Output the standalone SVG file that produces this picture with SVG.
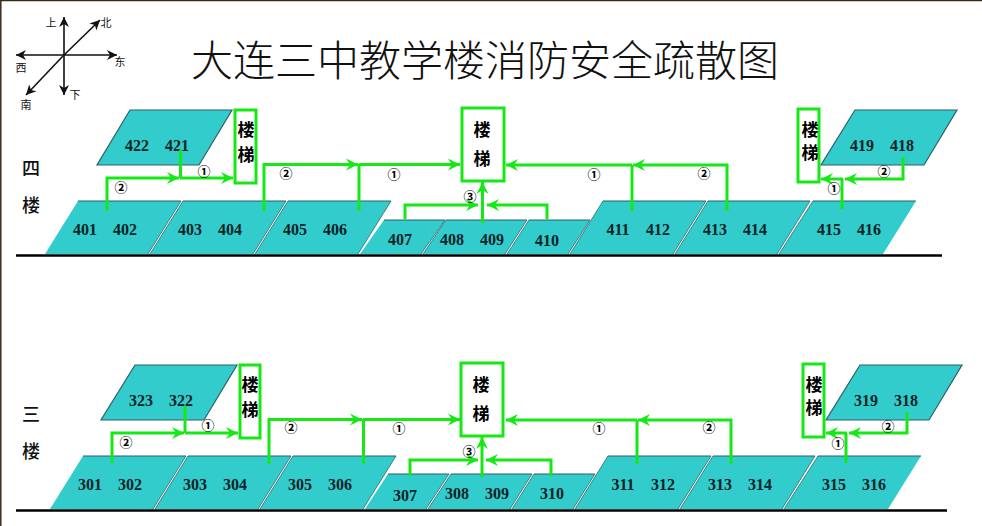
<svg xmlns="http://www.w3.org/2000/svg" width="982" height="526" viewBox="0 0 982 526">
<style>
text{font-family:"Liberation Serif","Noto Sans CJK SC",serif;text-anchor:middle;fill:#111}
.room{fill:#33cccc;stroke:none}
.edge{fill:none;stroke:#2f5f68;stroke-width:1.2}
.sep{fill:none;stroke:#3d7478;stroke-width:.9}
.num{font-size:16px;font-weight:bold;fill:#0a2226}
.stair{fill:#fff;stroke:#16e816;stroke-width:3}
.zh{font-family:"Noto Sans CJK SC","Noto Sans CJK JP",sans-serif;font-weight:bold;font-size:17px;fill:#000}
.side{font-family:"Noto Sans CJK SC",sans-serif;font-size:18px;font-weight:500}
.dir{font-family:"Noto Sans CJK SC",sans-serif;font-size:11px}
.cn{font-family:"Noto Sans CJK SC",sans-serif;font-size:13px;font-weight:bold;fill:#000}
.g{fill:none;stroke:#16e816;stroke-width:3}
.ga{marker-end:url(#ah)}
.k{fill:none;stroke:#111;stroke-width:1.6;marker-end:url(#kh)}
.base{stroke:#000;stroke-width:2.5}
</style>
<defs>
<marker id="ah" markerUnits="userSpaceOnUse" markerWidth="14" markerHeight="14" refX="12" refY="6" orient="auto" viewBox="0 0 14 12"><path d="M0 0L12 6L0 12L4 6Z" fill="#16e816"/></marker>
<marker id="kh" markerUnits="userSpaceOnUse" markerWidth="12" markerHeight="12" refX="10" refY="5" orient="auto" viewBox="0 0 12 10"><path d="M0 0L10 5L0 10L3 5Z" fill="#111"/></marker>
</defs>
<rect width="982" height="526" fill="#fff"/>
<path d="M0 0.5H982M0.8 0V526" stroke="#3a2a18" stroke-width="1.5" fill="none"/>

<g id="compass">
<path class="k" d="M64 55V17"/><path class="k" d="M64 55V95"/><path class="k" d="M64 55H117"/><path class="k" d="M64 55H16"/><path class="k" d="M63 56L100 20"/><path class="k" d="M63 56L26 95"/>
<text class="dir" x="51" y="27">上</text><text class="dir" x="106" y="27">北</text><text class="dir" x="120" y="66">东</text><text class="dir" x="21" y="72">西</text><text class="dir" x="26" y="109">南</text><text class="dir" x="75" y="99">下</text>
</g>
<text id="title" x="485" y="76" font-size="42" style="font-family:'Noto Sans CJK SC',sans-serif;font-weight:300" fill="#111">大连三中教学楼消防安全疏散图</text>

<g id="floor4-label"><text class="side" x="31" y="175">四</text><text class="side" x="31" y="212">楼</text></g>
<g id="floor3-label"><text class="side" x="31" y="421">三</text><text class="side" x="31" y="458">楼</text></g>
<path class="base" d="M16 255.5H942"/>
<path class="base" d="M16 510.5H947"/>

<g id="r401"><polygon class="room" points="45,254 148,254 181,201 78,201"/><path class="edge" d="M78 201H181"/><path class="sep" d="M148 254L181 201"/><text class="num" x="85" y="235">401</text><text class="num" x="125" y="235">402</text></g>
<g id="r403"><polygon class="room" points="150,254 253,254 286,201 183,201"/><path class="edge" d="M183 201H286"/><path class="sep" d="M150 254L183 201M253 254L286 201"/><text class="num" x="190" y="235">403</text><text class="num" x="230" y="235">404</text></g>
<g id="r405"><polygon class="room" points="255,254 358,254 391,201 288,201"/><path class="edge" d="M288 201H391"/><path class="sep" d="M255 254L288 201M358 254L391 201"/><text class="num" x="295" y="235">405</text><text class="num" x="335" y="235">406</text></g>
<g id="r407"><polygon class="room" points="360,254 421,254 445,220 384,220"/><path class="edge" d="M384 220H445"/><path class="sep" d="M421 254L445 220"/><text class="num" x="400" y="245">407</text></g>
<g id="r408"><polygon class="room" points="423,254 505,254 527,220 446,220"/><path class="edge" d="M446 220H527"/><path class="sep" d="M423 254L446 220M505 254L527 220"/><text class="num" x="452" y="245">408</text><text class="num" x="492" y="245">409</text></g>
<g id="r410"><polygon class="room" points="507,254 568,254 590,220 529,220"/><path class="edge" d="M529 220H590"/><path class="sep" d="M507 254L529 220M568 254L590 220"/><text class="num" x="547" y="246">410</text></g>
<g id="r411"><polygon class="room" points="570,254 673,254 706,201 603,201"/><path class="edge" d="M603 201H706"/><path class="sep" d="M570 254L603 201M673 254L706 201"/><text class="num" x="618" y="235">411</text><text class="num" x="658" y="235">412</text></g>
<g id="r413"><polygon class="room" points="675,254 777,254 810,201 708,201"/><path class="edge" d="M708 201H810"/><path class="sep" d="M675 254L708 201M777 254L810 201"/><text class="num" x="715" y="235">413</text><text class="num" x="755" y="235">414</text></g>
<g id="r415"><polygon class="room" points="779,254 883,254 916,201 813,201"/><path class="edge" d="M813 201H916"/><path class="sep" d="M779 254L813 201"/><text class="num" x="829" y="235">415</text><text class="num" x="869" y="235">416</text></g>
<g id="r422"><polygon class="room" points="97,165 199,165 232,110 130,110"/><path class="edge" d="M97 165H199L232 110H130Z"/><text class="num" x="137" y="151">422</text><text class="num" x="177" y="151">421</text></g>
<g id="r419"><polygon class="room" points="821,165 924,165 957,110 855,110"/><path class="edge" d="M821 165H924L957 110H855Z"/><text class="num" x="862" y="151">419</text><text class="num" x="902" y="151">418</text></g>
<g id="s4a"><rect class="stair" x="235" y="110" width="21" height="73"/><text class="zh" x="246" y="136">楼</text><text class="zh" x="246" y="161">梯</text></g>
<g id="s4b"><rect class="stair" x="462" y="108" width="42" height="73"/><text class="zh" x="482" y="136">楼</text><text class="zh" x="482" y="165">梯</text></g>
<g id="s4c"><rect class="stair" x="798" y="109" width="21" height="73"/><text class="zh" x="810" y="136">楼</text><text class="zh" x="810" y="159">梯</text></g>

<g id="r301"><polygon class="room" points="50,509 153,509 186,456 83,456"/><path class="edge" d="M83 456H186"/><path class="sep" d="M153 509L186 456"/><text class="num" x="90" y="490">301</text><text class="num" x="130" y="490">302</text></g>
<g id="r303"><polygon class="room" points="155,509 258,509 291,456 188,456"/><path class="edge" d="M188 456H291"/><path class="sep" d="M155 509L188 456M258 509L291 456"/><text class="num" x="195" y="490">303</text><text class="num" x="235" y="490">304</text></g>
<g id="r305"><polygon class="room" points="260,509 363,509 396,456 293,456"/><path class="edge" d="M293 456H396"/><path class="sep" d="M260 509L293 456M363 509L396 456"/><text class="num" x="300" y="490">305</text><text class="num" x="340" y="490">306</text></g>
<g id="r307"><polygon class="room" points="365,509 426,509 449,474 388,474"/><path class="edge" d="M388 474H449"/><path class="sep" d="M426 509L449 474"/><text class="num" x="405" y="501">307</text></g>
<g id="r308"><polygon class="room" points="428,509 510,509 532,474 451,474"/><path class="edge" d="M451 474H532"/><path class="sep" d="M428 509L451 474M510 509L532 474"/><text class="num" x="457" y="499">308</text><text class="num" x="497" y="499">309</text></g>
<g id="r310"><polygon class="room" points="512,509 573,509 595,474 534,474"/><path class="edge" d="M534 474H595"/><path class="sep" d="M512 509L534 474M573 509L595 474"/><text class="num" x="552" y="499">310</text></g>
<g id="r311"><polygon class="room" points="575,509 678,509 711,456 608,456"/><path class="edge" d="M608 456H711"/><path class="sep" d="M575 509L608 456M678 509L711 456"/><text class="num" x="623" y="490">311</text><text class="num" x="663" y="490">312</text></g>
<g id="r313"><polygon class="room" points="680,509 782,509 815,456 713,456"/><path class="edge" d="M713 456H815"/><path class="sep" d="M680 509L713 456M782 509L815 456"/><text class="num" x="720" y="490">313</text><text class="num" x="760" y="490">314</text></g>
<g id="r315"><polygon class="room" points="784,509 888,509 921,456 818,456"/><path class="edge" d="M818 456H921"/><path class="sep" d="M784 509L818 456"/><text class="num" x="834" y="490">315</text><text class="num" x="874" y="490">316</text></g>
<g id="r323"><polygon class="room" points="101,420 204,420 237,365 135,365"/><path class="edge" d="M101 420H204L237 365H135Z"/><text class="num" x="141" y="406">323</text><text class="num" x="181" y="406">322</text></g>
<g id="r319"><polygon class="room" points="826,420 929,420 962,365 860,365"/><path class="edge" d="M826 420H929L962 365H860Z"/><text class="num" x="866" y="406">319</text><text class="num" x="906" y="406">318</text></g>
<g id="s3a"><rect class="stair" x="240" y="365" width="20" height="73"/><text class="zh" x="250" y="391">楼</text><text class="zh" x="250" y="416">梯</text></g>
<g id="s3b"><rect class="stair" x="461" y="363" width="42" height="73"/><text class="zh" x="481" y="391">楼</text><text class="zh" x="481" y="420">梯</text></g>
<g id="s3c"><rect class="stair" x="803" y="364" width="21" height="73"/><text class="zh" x="814" y="391">楼</text><text class="zh" x="814" y="414">梯</text></g>

<g id="connectors">
<path class="g" d="M180.500 150V178"/><path class="g ga" d="M180 178H233"/><path class="g ga" d="M107 211V178H179"/>
<path class="g ga" d="M264 211V164.500H358"/><path class="g ga" d="M359 164.500H460"/><path class="g" d="M359 164V211"/>
<path class="g ga" d="M727 211V165H633"/><path class="g ga" d="M632 165H506"/><path class="g" d="M632 165V211"/>
<path class="g ga" d="M482.500 223V182"/><path class="g ga" d="M405 219V205H478"/><path class="g ga" d="M547 219V205H487"/>
<path class="g ga" d="M903 157V179H845"/><path class="g ga" d="M843 179H821"/><path class="g" d="M842 179V209"/>

<path class="g" d="M185 406V433"/><path class="g ga" d="M185 433H238"/><path class="g ga" d="M112 463V433H184"/>
<path class="g ga" d="M269 464V419.500H362"/><path class="g ga" d="M363 419.500H460"/><path class="g" d="M363.500 419V464"/>
<path class="g ga" d="M731 464V420H638"/><path class="g ga" d="M637 420H506"/><path class="g" d="M637 420V464"/>
<path class="g ga" d="M482 477V437"/><path class="g ga" d="M410 476V460H478"/><path class="g ga" d="M551 476V460H486"/>
<path class="g ga" d="M907 412V433H849"/><path class="g ga" d="M847 433H826"/><path class="g" d="M846 433V463"/>
<g>
<text class="cn" x="204" y="176">①</text><text class="cn" x="121" y="192">②</text><text class="cn" x="286" y="178">②</text><text class="cn" x="394" y="179">①</text><text class="cn" x="470" y="201">③</text><text class="cn" x="594" y="179">①</text><text class="cn" x="704" y="178">②</text><text class="cn" x="884" y="176">②</text><text class="cn" x="834" y="193">①</text>
<text class="cn" x="208" y="430">①</text><text class="cn" x="126" y="447">②</text><text class="cn" x="291" y="432">②</text><text class="cn" x="399" y="433">①</text><text class="cn" x="469" y="456">③</text><text class="cn" x="599" y="433">①</text><text class="cn" x="709" y="432">②</text><text class="cn" x="888" y="431">②</text><text class="cn" x="838" y="448">①</text>
</g>
</g>
</svg>
